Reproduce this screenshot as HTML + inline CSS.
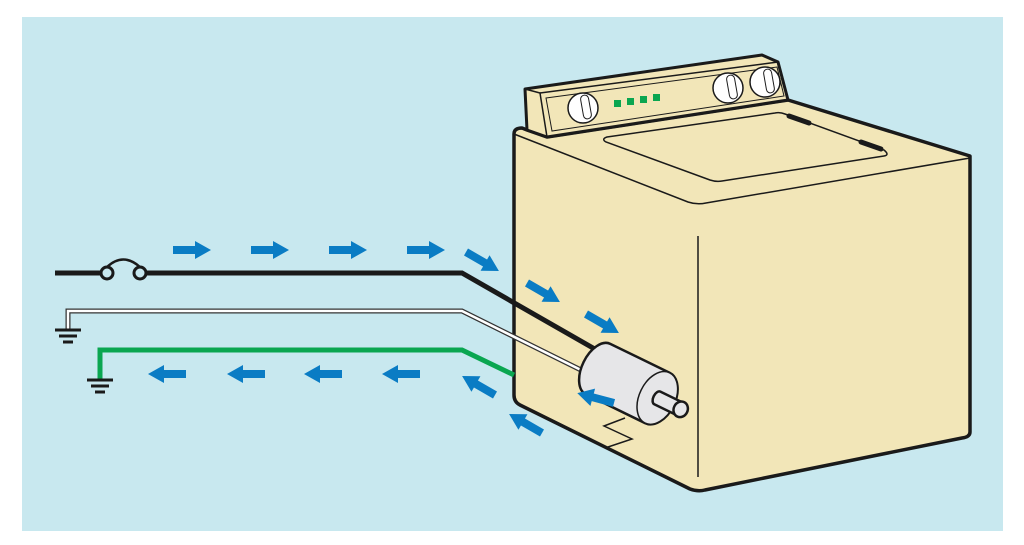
<!DOCTYPE html>
<html><head><style>html,body{margin:0;padding:0;background:#fff}svg{display:block}</style></head>
<body>
<svg width="1024" height="545" viewBox="0 0 1024 545" xmlns="http://www.w3.org/2000/svg">
<defs>
<g id="ar"><polygon points="0,-4 22,-4 22,-9 38,0 22,9 22,4 0,4" fill="#0a7cc4"/></g>
</defs>
<rect x="22" y="17" width="981" height="514" fill="#c8e8ef"/>
<path d="M514,134 Q514,128 522,128 L527,130 L547,137 L788,100 L970,156 L970,432 Q970,437 962,438 L705,490 Q698,492 690,489 L520,405 Q514,402 514,395 Z" fill="#f2e6b8" stroke="#1a1a1a" stroke-width="3.5" stroke-linejoin="round"/>
<path d="M514,134 L688,202 Q697,205 706,203 L970,158" fill="none" stroke="#1a1a1a" stroke-width="1.5"/>
<line x1="698" y1="236" x2="698" y2="477" stroke="#1a1a1a" stroke-width="1.5"/>
<path d="M607,137 L775,113 Q780,112 785,114 L884,150 Q890,155 884,156 L722,181 Q716,182 710,180 L606,142 Q601,139 607,137 Z" fill="none" stroke="#1a1a1a" stroke-width="1.5"/>
<line x1="789" y1="116" x2="809" y2="123" stroke="#1a1a1a" stroke-width="5" stroke-linecap="round"/>
<line x1="861" y1="142" x2="881" y2="149" stroke="#1a1a1a" stroke-width="5" stroke-linecap="round"/>
<polygon points="525,89 762,55 778,62 788,100 547,137 527,130" fill="#f2e6b8" stroke="#1a1a1a" stroke-width="3" stroke-linejoin="round"/>
<polyline points="525,89 540,93 547,137" fill="none" stroke="#1a1a1a" stroke-width="1.5"/>
<line x1="540" y1="93" x2="778" y2="62" stroke="#1a1a1a" stroke-width="1.5"/>
<polygon points="546,98 777,67 784,96 552,131" fill="none" stroke="#1a1a1a" stroke-width="1"/>
<g stroke="#1a1a1a" stroke-width="1.5" fill="#fff">
<circle cx="583" cy="108" r="15"/><circle cx="728" cy="88" r="15"/><circle cx="765" cy="82" r="15"/>
</g>
<g stroke="#1a1a1a" stroke-width="1" fill="none">
<rect x="582" y="95" width="8" height="24" rx="4" transform="rotate(-10 586 107)"/>
<rect x="728" y="75" width="8" height="24" rx="4" transform="rotate(-10 732 87)"/>
<rect x="765" y="69" width="8" height="24" rx="4" transform="rotate(-10 769 81)"/>
</g>
<g fill="#0aa650"><rect x="614" y="100" width="7" height="7"/><rect x="627" y="98" width="7" height="7"/><rect x="640" y="96" width="7" height="7"/><rect x="653" y="94" width="7" height="7"/></g>
<polyline points="55,273 462,273 600,352" fill="none" stroke="#1a1a1a" stroke-width="5"/>
<rect x="101" y="266" width="46" height="14" fill="#c8e8ef"/>
<circle cx="107" cy="273" r="6" fill="#c8e8ef" stroke="#1a1a1a" stroke-width="3"/>
<circle cx="140" cy="273" r="6" fill="#c8e8ef" stroke="#1a1a1a" stroke-width="3"/>
<path d="M107,267 Q123,252 140,267" fill="none" stroke="#1a1a1a" stroke-width="2.5"/>
<polyline points="68,330 68,311 462,311 585,372" fill="none" stroke="#333" stroke-width="5"/>
<polyline points="68,330 68,311 462,311 585,372" fill="none" stroke="#fff" stroke-width="2.5"/>
<g stroke="#1a1a1a" stroke-width="3"><line x1="55" y1="330" x2="81" y2="330"/><line x1="59" y1="336" x2="77" y2="336"/><line x1="63" y1="342" x2="73" y2="342"/></g>
<polyline points="100,380 100,350 462,350 514,375" fill="none" stroke="#0aa650" stroke-width="5"/>
<g stroke="#1a1a1a" stroke-width="3"><line x1="87" y1="380" x2="113" y2="380"/><line x1="91" y1="386" x2="109" y2="386"/><line x1="95" y1="392" x2="105" y2="392"/></g>
<polyline points="625,418 604,426 632,439 605,448" fill="none" stroke="#1a1a1a" stroke-width="1.5"/>
<g transform="translate(598,369) rotate(26)" stroke="#1a1a1a" stroke-width="2.5" fill="#e6e6e8">
<path d="M0,-28 L66,-28 A18,28 0 0 1 66,28 L0,28 A16,28 0 0 1 0,-28 Z"/>
<ellipse cx="66" cy="0" rx="18" ry="28" stroke-width="1.5"/>
<path d="M66,-7 L92,-7 L92,7 L66,7 A4,7 0 0 1 66,-7 Z"/>
<ellipse cx="92" cy="0" rx="7" ry="8"/>
</g>
<use href="#ar" transform="translate(173,250)"/>
<use href="#ar" transform="translate(251,250)"/>
<use href="#ar" transform="translate(329,250)"/>
<use href="#ar" transform="translate(407,250)"/>
<use href="#ar" transform="translate(466,252) rotate(30)"/>
<use href="#ar" transform="translate(527,283) rotate(30)"/>
<use href="#ar" transform="translate(586,314) rotate(30)"/>
<use href="#ar" transform="translate(186,374) rotate(180)"/>
<use href="#ar" transform="translate(265,374) rotate(180)"/>
<use href="#ar" transform="translate(342,374) rotate(180)"/>
<use href="#ar" transform="translate(420,374) rotate(180)"/>
<use href="#ar" transform="translate(495,395) rotate(210)"/>
<use href="#ar" transform="translate(542,433) rotate(210)"/>
<use href="#ar" transform="translate(614,403) rotate(195)"/>
</svg>
</body></html>
